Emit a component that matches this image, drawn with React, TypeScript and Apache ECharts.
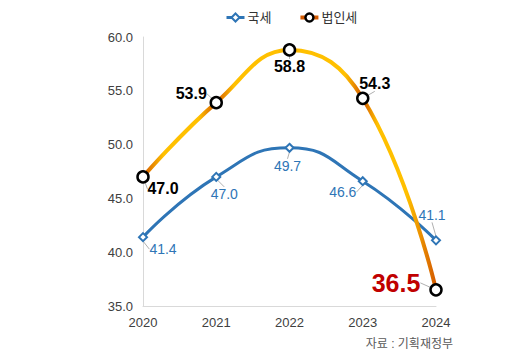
import React, { useEffect, useRef } from "react";
import * as echarts from "echarts";

const years = ["2020", "2021", "2022", "2023", "2024"];
const nationalTax = [41.4, 47.0, 49.7, 46.6, 41.1];
const corporateTax = [47.0, 53.9, 58.8, 54.3, 36.5];
const seriesNames = ["국세", "법인세"];
const sourceText = "자료 : 기획재정부";

// label displacement (px) from each point, styling only
const nationalOffsets = [[20, 12], [8, 17], [-2, 18], [-20, 11], [-4, -25]];
const corporateOffsets = [[20, 12], [-25, -9], [0, 17], [12, -15], [-40, -7]];

const FONT = "'Liberation Sans', 'Noto Sans CJK KR', sans-serif";
const DARK = "#d45a00";
const YELLOW = "#ffc000";
const BLUE = "#2e75b6";

export default function App() {
  const ref = useRef<HTMLDivElement>(null);
  useEffect(() => {
    if (!ref.current) return;
    const chart = echarts.init(ref.current, null, { renderer: "svg" });
    const grad = new echarts.graphic.LinearGradient(0, 0, 1, 0, [
      { offset: 0, color: DARK },
      { offset: 0.07, color: YELLOW },
      { offset: 0.19, color: YELLOW },
      { offset: 0.25, color: DARK },
      { offset: 0.31, color: YELLOW },
      { offset: 0.46, color: YELLOW },
      { offset: 0.5, color: "#f0a000" },
      { offset: 0.54, color: YELLOW },
      { offset: 0.69, color: YELLOW },
      { offset: 0.75, color: DARK },
      { offset: 0.8, color: YELLOW },
      { offset: 0.9, color: YELLOW },
      { offset: 1, color: DARK },
    ]);
    chart.setOption({
      animation: false,
      textStyle: { fontFamily: FONT },
      legend: {
        top: 6,
        left: 220,
        itemGap: 27,
        itemWidth: 18,
        itemHeight: 10,
        textStyle: { fontSize: 13, color: "#333333", fontFamily: FONT, padding: [0, 0, 0, -2] },
        data: [
          { name: seriesNames[0], lineStyle: { color: BLUE, width: 3 } },
          { name: seriesNames[1], itemStyle: { color: "#ffffff", borderColor: "#000", borderWidth: 2.5 }, lineStyle: { color: DARK, width: 4 } },
        ],
      },
      grid: { left: 143, right: 91, top: 37, bottom: 52 },
      xAxis: {
        type: "category",
        data: years,
        boundaryGap: false,
        axisLine: { lineStyle: { color: "#d9d9d9", width: 1 } },
        axisTick: { show: false },
        axisLabel: { color: "#404040", fontSize: 13, margin: 10, fontFamily: FONT },
      },
      yAxis: {
        type: "value",
        min: 35,
        max: 60,
        interval: 5,
        axisLine: { show: true, lineStyle: { color: "#d9d9d9", width: 1 } },
        axisTick: { show: false },
        splitLine: { show: false },
        axisLabel: {
          color: "#404040",
          fontSize: 13,
          margin: 10,
          fontFamily: FONT,
          formatter: (v: number) => v.toFixed(1),
        },
      },
      graphic: [
        {
          type: "text",
          right: 74,
          top: 338,
          style: { text: sourceText, fontSize: 12, fill: "#595959", fontFamily: FONT },
        },
      ],
      series: [
        {
          name: seriesNames[0],
          type: "line",
          smooth: 0.5,
          data: nationalTax,
          symbol: "diamond",
          symbolSize: 8,
          lineStyle: { color: BLUE, width: 3 },
          itemStyle: { color: "#ffffff", borderColor: BLUE, borderWidth: 2 },
          z: 3,
          label: {
            show: true,
            position: "inside",
            color: BLUE,
            fontSize: 14,
            fontFamily: FONT,
            formatter: (p: any) => Number(p.value).toFixed(1),
          },
          labelLine: { show: true, lineStyle: { color: "#b0b0b0", width: 1 } },
          labelLayout: (p: any) => ({ dx: nationalOffsets[p.dataIndex][0], dy: nationalOffsets[p.dataIndex][1] }),
        },
        {
          name: seriesNames[1],
          type: "line",
          smooth: 0.45,
          data: corporateTax.map((v, i) =>
            i === corporateTax.length - 1
              ? { value: v, label: { color: "#c00000", fontSize: 25 } }
              : v
          ),
          symbol: "circle",
          symbolSize: 11,
          lineStyle: { color: grad, width: 4 },
          itemStyle: { color: "#ffffff", borderColor: "#000000", borderWidth: 2.5 },
          z: 4,
          label: {
            show: true,
            position: "inside",
            color: "#000000",
            fontSize: 16,
            fontWeight: "bold",
            fontFamily: FONT,
            formatter: (p: any) => Number(p.value).toFixed(1),
          },
          labelLine: { show: true, lineStyle: { color: "#b0b0b0", width: 1 } },
          labelLayout: (p: any) => ({ dx: corporateOffsets[p.dataIndex][0], dy: corporateOffsets[p.dataIndex][1] }),
        },
      ],
    });
    return () => chart.dispose();
  }, []);
  return (
    <div
      ref={ref}
      style={{ position: "absolute", left: 0, top: 0, width: 527, height: 358 }}
    />
  );
}
